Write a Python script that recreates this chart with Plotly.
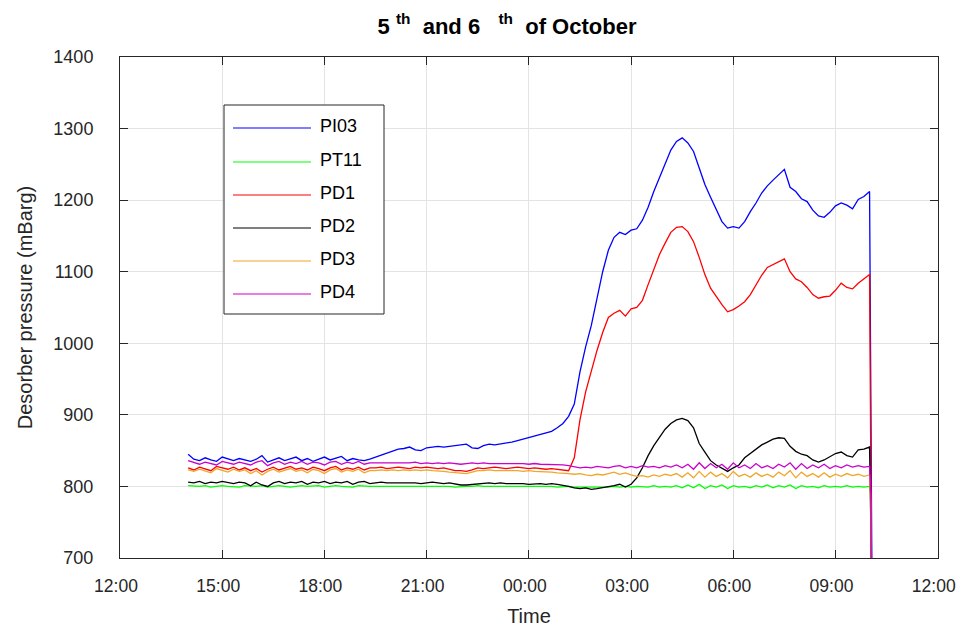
import pandas as pd
import plotly.graph_objects as go

# sampling times: every 10 minutes from 14:00 (5 Oct) to 10:00 (6 Oct), then the shutdown drop
times = list(pd.date_range("2017-10-05 14:00", "2017-10-06 10:00", freq="10min"))
times += [pd.Timestamp("2017-10-06 10:02"), pd.Timestamp("2017-10-06 10:07")]

names = ["PI03", "PT11", "PD1", "PD2", "PD3", "PD4"]
colors = ["#0000FF", "#00FF00", "#FF0000", "#000000", "#F0A628", "#CC00CC"]

pi03 = [845, 838, 836, 840, 837, 835, 841, 838, 836, 839, 837, 835, 838, 843, 834, 837, 840, 836, 838, 841,
        836, 839, 835, 838, 841, 837, 839, 842, 836, 839, 837, 836, 838,
        841, 844, 847, 850, 852, 853, 855, 851, 850, 854, 855, 856, 855, 856, 857, 858, 859, 854, 853, 857,
        859, 858, 859, 860, 862, 864, 866, 868, 870, 872, 874, 877, 882, 888, 898,
        915, 960, 995, 1025, 1062, 1100, 1130, 1148, 1155, 1152, 1158, 1160, 1172, 1190, 1212, 1232, 1252,
        1270, 1282, 1287, 1280, 1268, 1245, 1222, 1204, 1186, 1170, 1161, 1163, 1161, 1170, 1184, 1196, 1210,
        1220, 1228, 1236, 1243, 1218, 1212, 1202, 1198, 1186, 1178, 1176, 1183, 1192, 1196, 1193, 1188, 1201,
        1205, 1212,
        900, 300]

pt11 = [801, 800, 800, 801, 799, 800, 801, 800, 800, 799, 801, 800, 800, 801, 799, 800, 801, 800, 799, 800,
        801, 800, 800, 801, 799, 800, 801, 800, 800, 799, 801, 800, 800,
        800, 800, 801, 800, 800, 800, 801, 800, 800, 800, 801, 800, 800, 800, 799, 800, 800, 800, 801, 800,
        800, 800, 800, 801, 800, 800, 800, 801, 800, 800, 800, 800, 799, 800, 800,
        799, 799, 798, 799, 798, 799, 799, 800, 799, 800, 799, 800, 800, 799, 801, 799, 800, 799, 801, 798,
        802, 798, 803, 797, 801, 799, 802, 797, 801, 799, 800, 798, 801, 799, 802, 798, 801, 799, 802, 797,
        801, 799, 800, 798, 801, 799, 800, 799, 801, 799, 800, 799, 800,
        790, 300]

pd1 = [826, 823, 827, 825, 822, 828, 826, 824, 827, 823, 826, 822, 825, 820, 824, 827, 823, 826, 828, 824,
       826, 823, 827, 825, 822, 826, 828, 823, 826, 824, 827, 823, 826,
       826, 827, 825, 826, 827, 826, 825, 827, 826, 827, 826, 825, 826, 824, 822, 822, 821, 823, 826, 825,
       826, 827, 826, 825, 826, 827, 826, 825, 826, 825, 824, 825, 824, 823, 822,
       840, 893, 932, 962, 990, 1015, 1036, 1042, 1046, 1038, 1048, 1050, 1060, 1082, 1102, 1124, 1140,
       1155, 1162, 1163, 1156, 1142, 1120, 1096, 1077, 1065, 1054, 1044, 1047, 1052, 1058, 1068, 1082, 1095,
       1106, 1110, 1115, 1118, 1100, 1090, 1086, 1078, 1068, 1063, 1065, 1066, 1074, 1084, 1078, 1076, 1084,
       1090, 1096,
       850, 300]

pd2 = [806, 805, 807, 804, 806, 805, 807, 806, 804, 806, 805, 801, 806, 802, 800, 805, 807, 804, 806, 805,
       807, 803, 806, 805, 807, 804, 806, 805, 807, 803, 806, 807, 804,
       805, 806, 805, 805, 806, 805, 806, 805, 804, 805, 806, 805, 804, 805, 803, 802, 802, 803, 804, 804,
       805, 804, 805, 804, 804, 805, 804, 803, 804, 804, 803, 804, 803, 802, 800,
       798, 797, 798, 796, 797, 798, 799, 801, 803, 799, 803, 812, 826, 843, 857, 869, 880, 888, 893, 895,
       892, 882, 860, 848, 836, 830, 826, 821, 826, 830, 840, 846, 852, 858, 862, 866, 868, 867, 856, 849,
       845, 843, 837, 834, 837, 841, 846, 848, 843, 841, 851, 852, 855,
       755, 300]

pd3 = [823, 821, 824, 822, 819, 825, 822, 820, 824, 821, 823, 818, 822, 816, 821, 824, 820, 823, 825, 821,
       823, 819, 824, 822, 818, 823, 825, 820, 823, 821, 824, 819, 822,
       822, 823, 822, 823, 822, 823, 822, 823, 822, 823, 822, 822, 821, 820, 819, 819, 818, 820, 822, 822,
       823, 822, 822, 823, 822, 822, 821, 822, 821, 821, 820, 820, 819, 819, 818,
       817, 818, 816, 815, 817, 816, 818, 820, 817, 819, 816, 814, 815, 813, 816, 814, 817, 815, 818, 813,
       819, 812, 821, 813, 820, 814, 818, 812, 821, 814, 817, 813, 819, 814, 817, 813, 820, 815, 822, 812,
       820, 814, 818, 813, 819, 813, 817, 814, 818, 815, 817, 814, 816,
       775, 300]

pd4 = [836, 833, 831, 834, 832, 830, 835, 833, 831, 834, 832, 830, 834, 836, 829, 833, 835, 831, 834, 832,
       835, 831, 834, 833, 830, 834, 835, 831, 834, 832, 835, 831, 833,
       833, 832, 833, 832, 833, 832, 833, 834, 832, 833, 832, 833, 832, 833, 832, 831, 832, 833, 832, 833,
       832, 832, 833, 832, 832, 833, 832, 831, 832, 831, 831, 830, 830, 830, 829,
       828, 826, 827, 826, 828, 827, 826, 828, 829, 826, 828, 826, 829, 827, 828, 826, 829, 827, 830, 826,
       831, 824, 833, 825, 832, 826, 831, 824, 833, 826, 830, 825, 832, 826, 829, 825, 831, 827, 833, 824,
       832, 825, 830, 826, 831, 825, 829, 826, 830, 827, 829, 827, 828,
       790, 300]

series = [pi03, pt11, pd1, pd2, pd3, pd4]

y_ticks = [700, 800, 900, 1000, 1100, 1200, 1300, 1400]
x_ticks = list(pd.date_range("2017-10-05 12:00", "2017-10-06 12:00", freq="3h"))
x_ticktext = [t.strftime("%H:%M") for t in x_ticks]

FONT = "Liberation Sans, Arial, sans-serif"
AX = "#262626"
NB = "\u00a0"

fig = go.Figure()
for name, col, vals in zip(names, colors, series):
    fig.add_trace(go.Scatter(x=times, y=vals, mode="lines", name=name,
                             line=dict(color=col, width=1.3), showlegend=False))

title_text = ("<b>5" + NB + "<sup>th</sup>" + NB * 2 + "and 6" + NB * 3 + "<sup>th</sup>"
              + NB * 2 + "of October</b>")

fig.update_layout(
    width=957, height=627,
    margin=dict(l=120, r=19, t=57, b=69, autoexpand=False),
    paper_bgcolor="white", plot_bgcolor="white",
    font=dict(family=FONT, size=18, color=AX),
    title=dict(text=title_text,
               x=507 / 957, xanchor="center", xref="container",
               y=1 - 26 / 627, yanchor="middle", yref="container",
               font=dict(family=FONT, size=22, color="#000000")),
)

fig.update_xaxes(
    range=[x_ticks[0], pd.Timestamp("2017-10-06 12:00:30")], tickvals=x_ticks, ticktext=x_ticktext,
    showline=True, linecolor=AX, linewidth=1, mirror="ticks",
    ticks="inside", ticklen=8, tickcolor=AX, tickwidth=1,
    showgrid=True, gridcolor="#E3E3E3", gridwidth=1, zeroline=False,
    tickfont=dict(size=17.5),
    ticklabelstandoff=12, ticklabelshift=-4, ticklabeloverflow="allow", automargin=False,
    title=dict(text="Time", font=dict(size=20, color=AX)),
)
fig.update_yaxes(
    range=[700, 1400], tickvals=y_ticks,
    showline=True, linecolor=AX, linewidth=1, mirror="ticks",
    ticks="inside", ticklen=8, tickcolor=AX, tickwidth=1,
    showgrid=True, gridcolor="#E3E3E3", gridwidth=1, zeroline=False,
    ticklabelstandoff=22, ticklabeloverflow="allow", automargin=False,
    title=dict(text="Desorber pressure (mBarg)", font=dict(size=20, color=AX)),
)

# legend box drawn like the MATLAB legend
def px_x(p):
    return (p - 120) / 818

def px_y(p):
    return (558 - p) / 501

fig.add_shape(type="rect", xref="paper", yref="paper",
              x0=px_x(224), x1=px_x(384), y0=px_y(314), y1=px_y(105),
              line=dict(color=AX, width=1), fillcolor="white", layer="above")
rows = [126, 160, 193, 226, 259, 292]
for name, col, r in zip(names, colors, rows):
    fig.add_shape(type="line", xref="paper", yref="paper",
                  x0=px_x(233), x1=px_x(311), y0=px_y(r + 2), y1=px_y(r + 2),
                  line=dict(color=col, width=1.2), layer="above")
    fig.add_annotation(xref="paper", yref="paper", x=px_x(318), y=px_y(r),
                       text=name, showarrow=False, xanchor="left", yanchor="middle",
                       font=dict(family=FONT, size=18, color="#000000"))

fig.write_html("out.html")
